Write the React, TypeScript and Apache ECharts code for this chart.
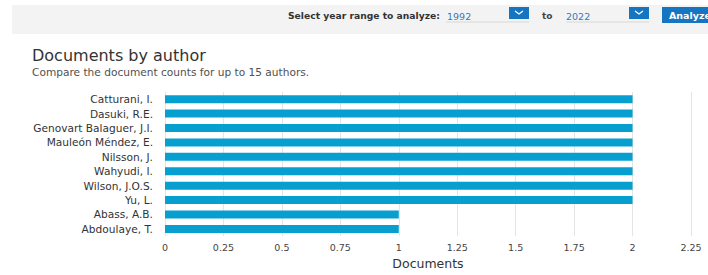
import React, { useEffect, useRef } from "react";
import * as echarts from "echarts";

const authors = [
  "Catturani, I.",
  "Dasuki, R.E.",
  "Genovart Balaguer, J.I.",
  "Mauleón Méndez, E.",
  "Nilsson, J.",
  "Wahyudi, I.",
  "Wilson, J.O.S.",
  "Yu, L.",
  "Abass, A.B.",
  "Abdoulaye, T.",
];
const documents = [2, 2, 2, 2, 2, 2, 2, 2, 1, 1];
const yearFrom = "1992";
const yearTo = "2022";

const WFONT = "'DejaVu Sans', Verdana, sans-serif";

export default function App() {
  const ref = useRef<HTMLDivElement>(null);
  useEffect(() => {
    if (!ref.current) return;
    const chart = echarts.init(ref.current, undefined, { renderer: "svg" });
    const chevron = (x: number) => ({
      type: "group",
      children: [
        { type: "rect", shape: { x, y: 7, width: 20, height: 12 }, style: { fill: "#1575c0" } },
        {
          type: "polyline",
          shape: { points: [[x + 6, 11], [x + 10, 14], [x + 14, 11]] },
          style: { stroke: "#ffffff", lineWidth: 1.3, fill: "none" },
        },
      ],
    });
    chart.setOption({
      animation: false,
      textStyle: { fontFamily: WFONT },
      title: {
        text: "Documents by author",
        subtext: "Compare the document counts for up to 15 authors.",
        left: 27,
        top: 42,
        itemGap: 3,
        textStyle: { fontSize: 16, fontWeight: "normal", color: "#333333", fontFamily: WFONT },
        subtextStyle: { fontSize: 10.6, color: "#505050", fontFamily: WFONT },
      },
      graphic: [
        { type: "rect", shape: { x: 12, y: 5, width: 696, height: 29 }, style: { fill: "#f3f3f3" }, z: -1 },
        {
          type: "text",
          x: 288,
          y: 15,
          style: { text: "Select year range to analyze:", font: `bold 9.2px ${WFONT}`, fill: "#333333", verticalAlign: "middle" },
        },
        { type: "line", shape: { x1: 446, y1: 22, x2: 529, y2: 22 }, style: { stroke: "#d8d8d8", lineWidth: 1 } },
        { type: "text", x: 447, y: 16, style: { text: yearFrom, font: `9.5px ${WFONT}`, fill: "#3a78b5", verticalAlign: "middle" } },
        chevron(509),
        { type: "text", x: 542, y: 16, style: { text: "to", font: `bold 9px ${WFONT}`, fill: "#444444", verticalAlign: "middle" } },
        { type: "line", shape: { x1: 566, y1: 22, x2: 649, y2: 22 }, style: { stroke: "#d8d8d8", lineWidth: 1 } },
        { type: "text", x: 566, y: 16, style: { text: yearTo, font: `9.5px ${WFONT}`, fill: "#3a78b5", verticalAlign: "middle" } },
        chevron(629),
        { type: "rect", shape: { x: 662, y: 7, width: 50, height: 16 }, style: { fill: "#1575c0" } },
        { type: "text", x: 669, y: 15, style: { text: "Analyze", font: `bold 9.5px ${WFONT}`, fill: "#ffffff", verticalAlign: "middle" } },
      ],
      grid: { left: 165, right: 17, top: 92, bottom: 35, containLabel: false },
      xAxis: {
        type: "value",
        min: 0,
        max: 2.25,
        interval: 0.25,
        name: "Documents",
        nameLocation: "middle",
        nameGap: 15,
        nameTextStyle: { fontSize: 12.5, color: "#333333", fontFamily: WFONT },
        axisLine: { show: false },
        axisTick: { show: false },
        axisLabel: { fontSize: 9.5, color: "#444444", margin: 6, fontFamily: WFONT },
        splitLine: { show: true, lineStyle: { color: "#e4e4e4", width: 1 } },
      },
      yAxis: {
        type: "category",
        data: authors,
        inverse: true,
        axisLine: { show: false },
        axisTick: { show: false },
        axisLabel: { fontSize: 10.6, color: "#333333", margin: 12, fontFamily: WFONT },
        splitLine: { show: false },
      },
      series: [
        {
          type: "bar",
          data: documents,
          barWidth: 8,
          itemStyle: { color: "#079fcf" },
        },
      ],
    });
    return () => chart.dispose();
  }, []);
  return (
    <div
      ref={ref}
      style={{ position: "fixed", left: 0, top: 0, width: 708, height: 275, background: "#ffffff" }}
    />
  );
}
